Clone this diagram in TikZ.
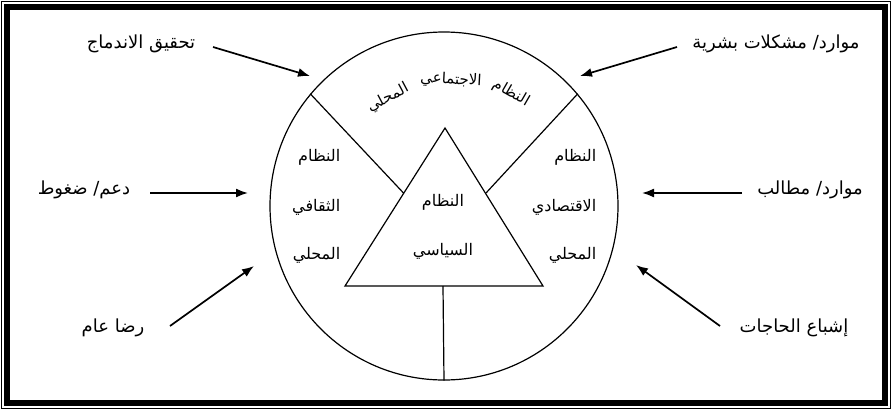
\documentclass[tikz,border=0pt]{standalone}
\usepackage{fontspec}
\usetikzlibrary{arrows.meta}
\TeXXeTstate=1
\newfontfamily\arabicfont[Script=Arabic]{DejaVu Sans}
\newcommand{\ar}[1]{\arabicfont\beginR #1\endR}
\begin{document}
\begin{tikzpicture}[x=1pt,y=-1pt,
  lbl/.style={inner sep=0.5pt,font=\fontsize{18}{20}\selectfont},
  inlbl/.style={inner sep=0.5pt,font=\fontsize{16}{18}\selectfont},
  arclbl/.style={inner sep=0pt,font=\fontsize{15}{17}\selectfont},
  arr/.style={line width=1.7pt,-{Latex[length=12pt,width=9pt]}},
  ln/.style={line width=1.2pt}]
\useasboundingbox (0,0) rectangle (892,410);
% frame
\draw[line width=1pt] (1.5,1.5) rectangle (890.5,408.5);
\draw[line width=5.5pt] (7,7) rectangle (885,403);
% circle
\node[circle,draw,line width=1.2pt,minimum size=348pt,inner sep=0pt] (sys) at (444,206) {};
% triangle
\coordinate (tA) at (445,128);
\coordinate (tL) at (345,286);
\coordinate (tR) at (543,286);
\coordinate (tB) at (443,286);
\coordinate (eL) at (403.5,193);
\coordinate (eR) at (486,193);
\draw[ln,line join=miter] (tA) -- (tL) -- (tR) -- cycle;
\draw[ln] (tB) -- (sys.south);
\draw[ln] (sys.140) -- (eL);
\draw[ln] (sys.40) -- (eR);
% top curved label
\node[arclbl,rotate=-30] (s1) at (511,93) {\ar{النظام}};
\node[arclbl,rotate=-3] (s2) at (451,80) {\ar{الاجتماعي}};
\node[arclbl,rotate=28] (s3) at (388,98) {\ar{المحلي}};
% left sector
\node[inlbl,anchor=east] (c1) at (341,157) {\ar{النظام}};
\node[inlbl,anchor=east] (c2) at (341,207) {\ar{الثقافي}};
\node[inlbl,anchor=east] (c3) at (341,255) {\ar{المحلي}};
% right sector
\node[inlbl,anchor=east] (e1) at (597,157) {\ar{النظام}};
\node[inlbl,anchor=east] (e2) at (597,207) {\ar{الاقتصادي}};
\node[inlbl,anchor=east] (e3) at (597,255) {\ar{المحلي}};
% triangle
\node[inlbl] (p1) at (443,202) {\ar{النظام}};
\node[inlbl] (p2) at (443,251) {\ar{السياسي}};
% outside labels
\node[lbl] (o1) at (141,44) {\ar{تحقيق الاندماج}};
\node[lbl] (o2) at (776,44) {\ar{موارد/ مشكلات بشرية}};
\node[lbl] (o3) at (84,190) {\ar{دعم/ ضغوط}};
\node[lbl] (o4) at (810,190) {\ar{موارد/ مطالب}};
\node[lbl] (o5) at (113,328) {\ar{رضا عام}};
\node[lbl] (o6) at (794,328) {\ar{إشباع الحاجات}};
% arrows
\coordinate (a1s) at (213,47);  \coordinate (a1e) at (310,76);
\coordinate (a2s) at (677,47);  \coordinate (a2e) at (580,76);
\coordinate (a3s) at (150,193); \coordinate (a3e) at (248,193);
\coordinate (a4s) at (742,193); \coordinate (a4e) at (642,193);
\coordinate (a5s) at (170,326); \coordinate (a5e) at (254,266);
\coordinate (a6s) at (720,326); \coordinate (a6e) at (636,265);
\draw[arr] (a1s) -- (a1e);
\draw[arr] (a2s) -- (a2e);
\draw[arr] (a3s) -- (a3e);
\draw[arr] (a4s) -- (a4e);
\draw[arr] (a5s) -- (a5e);
\draw[arr] (a6s) -- (a6e);
\end{tikzpicture}
\end{document}
